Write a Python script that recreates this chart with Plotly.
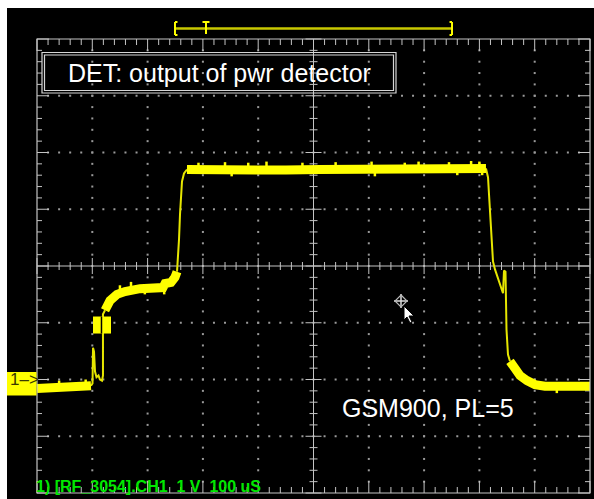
import plotly.graph_objects as go

# ---- scope settings -------------------------------------------------------
T_DIV = 100.0        # µs per division
V_DIV = 1.0          # V per division
N_XDIV, N_YDIV = 10, 8
SUB = 5              # minor ticks per division
V_BOTTOM = -2.0      # CH1 ground sits two divisions above the bottom edge
T_END = N_XDIV * T_DIV
V_TOP = V_BOTTOM + N_YDIV * V_DIV

# ---- CH1 (DET, power detector output), time in µs, level in V -------------
# noisy flat stretches (drawn as a wide band)
base_t = [0, 23.5, 59.7, 97.6]
base_v = [-0.16, -0.14, -0.14, -0.11]

ramp_t = [123.0, 132.0, 144.7, 159.1, 186.3, 213.4, 227.8, 231.5, 242.3, 249.5, 253.2]
ramp_v = [1.22, 1.39, 1.50, 1.55, 1.60, 1.62, 1.62, 1.69, 1.71, 1.80, 1.90]

burst_t = [271.2, 330.0, 385.2, 450.0, 511.8, 580.0, 656.4, 730.0, 811.9]
burst_v = [3.70, 3.69, 3.68, 3.69, 3.70, 3.71, 3.72, 3.72, 3.72]

tail_t = [855.3, 864.4, 873.4, 886.1, 900.5, 918.6, 963.8, 1000.0]
tail_v = [0.32, 0.18, 0.07, -0.02, -0.09, -0.12, -0.12, -0.12]

# noise peaks standing out of the band: (time µs, from V, to V)
peak_t = [40.0, 75.0, 88.0, 150.0, 170.0, 195.0, 230.0, 246.0,
          292.0, 340.0, 352.0, 382.0, 415.0, 480.0, 540.0, 605.0, 611.0,
          665.0, 690.0, 745.0, 760.0, 785.0, 800.0, 805.0, 940.0]
peak_lo = [-0.14, -0.14, -0.12, 1.50, 1.58, 1.60, 1.62, 1.74,
           3.70, 3.69, 3.68, 3.68, 3.69, 3.70, 3.70, 3.71, 3.71,
           3.72, 3.72, 3.72, 3.72, 3.72, 3.72, 3.72, -0.12]
peak_hi = [-0.02, -0.05, 0.00, 1.66, 1.72, 1.50, 1.50, 1.86,
           3.82, 3.83, 3.58, 3.82, 3.84, 3.82, 3.83, 3.84, 3.58,
           3.82, 3.84, 3.83, 3.60, 3.85, 3.84, 3.60, -0.24]

# fast edges (thin)
kick_t = [97.6, 100.4, 101.3, 103.1, 104.9, 107.6, 111.2, 113.9, 117.5, 119.3, 119.3, 123.0]
kick_v = [-0.11, -0.07, 0.56, 0.49, 0.14, 0.04, 0.07, 0.0, -0.02, 0.07, 1.15, 1.22]

rise_t = [253.2, 255.0, 256.8, 258.6, 260.4, 262.2, 265.8, 271.2]
rise_v = [1.90, 2.11, 2.47, 2.91, 3.26, 3.49, 3.63, 3.70]

fall_t = [811.9, 815.6, 817.4, 819.2, 821.0, 822.8, 824.6, 828.2, 835.4, 842.7,
          844.5, 847.2, 849.0, 851.7, 855.3]
fall_v = [3.72, 3.56, 3.26, 2.91, 2.56, 2.29, 2.08, 1.94, 1.74, 1.52,
          1.92, 1.90, 0.88, 0.44, 0.32]

# marker block on the trace (µs / V extents) and the acquisition window bar
mark_t = [101.3, 116.6, 133.8]
mark_v = [0.81, 1.11]
window_t = [249.5, 305.6, 750.5]   # start, trigger, stop

# ---- screen geometry -------------------------------------------------------
W, H = 594, 499
X0, X1, Y0, Y1 = 37, 590, 39, 493          # graticule in pixels
PL, PT = 7, 8                               # black screen origin
KX = (X1 - X0) / T_END
KY = (Y1 - Y0) / (N_YDIV * V_DIV)


def tx(px):
    return (px - X0) / KX


def vy(py):
    return V_TOP - (py - Y0) / KY


GRID = "#c4c4c4"
YEL = "#ffff00"
fig = go.Figure()


def segs(pairs, color, width):
    xs, ys = [], []
    for (a, b), (c, d) in pairs:
        xs += [a, c, None]
        ys += [b, d, None]
    fig.add_trace(go.Scatter(x=xs, y=ys, mode="lines", hoverinfo="skip",
                             line=dict(color=color, width=width), showlegend=False))


# dotted graticule
dx, dy = [], []
for i in range(1, N_XDIV):
    if i == N_XDIV // 2:
        continue
    for k in range(1, N_YDIV * SUB):
        dx.append(i * T_DIV)
        dy.append(V_BOTTOM + k * V_DIV / SUB)
for j in range(1, N_YDIV):
    if j == N_YDIV // 2:
        continue
    for k in range(1, N_XDIV * SUB):
        dx.append(k * T_DIV / SUB)
        dy.append(V_BOTTOM + j * V_DIV)
fig.add_trace(go.Scatter(x=dx, y=dy, mode="markers", hoverinfo="skip", showlegend=False,
                         marker=dict(symbol="square", size=2, color="#9a9a9a",
                                     line=dict(width=0))))

# edge and centre ticks
ticks = []
for k in range(0, N_XDIV * SUB + 1):
    t = k * T_DIV / SUB
    major = k % SUB == 0
    le = (12 if major else 6)
    ticks.append(((t, V_TOP), (t, V_TOP - le / KY)))
    ticks.append(((t, V_BOTTOM), (t, V_BOTTOM + le / KY)))
    lc = (8 if major else 4)
    vc = V_BOTTOM + N_YDIV / 2 * V_DIV
    ticks.append(((t, vc - lc / KY), (t, vc + lc / KY)))
for k in range(0, N_YDIV * SUB + 1):
    v = V_BOTTOM + k * V_DIV / SUB
    major = k % SUB == 0
    le = (12 if major else 5)
    ticks.append(((0, v), (le / KX, v)))
    ticks.append(((T_END, v), (T_END - le / KX, v)))
    lc = (8 if major else 4)
    tc = T_END / 2
    ticks.append(((tc - lc / KX, v), (tc + lc / KX, v)))
ticks.append(((0, V_BOTTOM + N_YDIV / 2), (T_END, V_BOTTOM + N_YDIV / 2)))
ticks.append(((T_END / 2, V_BOTTOM), (T_END / 2, V_TOP)))
segs(ticks, GRID, 1)

# frame
fig.add_shape(type="rect", x0=0, x1=T_END, y0=V_BOTTOM, y1=V_TOP,
              line=dict(color=GRID, width=1.2))

# acquisition window bar
bar_v = vy(28.5)
top_v, bot_v = vy(22), vy(35)
segs([((window_t[0], bar_v), (window_t[2], bar_v))], "#c8c800", 2.5)
segs([((window_t[0], top_v), (window_t[0], bot_v)),
      ((window_t[0], top_v), (window_t[0] + 2.5 / KX, top_v)),
      ((window_t[0], bot_v), (window_t[0] + 2.5 / KX, bot_v)),
      ((window_t[2], top_v), (window_t[2], bot_v)),
      ((window_t[2], top_v), (window_t[2] - 2.5 / KX, top_v)),
      ((window_t[2], bot_v), (window_t[2] - 2.5 / KX, bot_v)),
      ((window_t[1] - 3.5 / KX, top_v), (window_t[1] + 3.5 / KX, top_v)),
      ((window_t[1], top_v), (window_t[1], vy(34)))], YEL, 2)

# CH1 trace
for tt, vv in [(kick_t, kick_v), (rise_t, rise_v), (fall_t, fall_v)]:
    fig.add_trace(go.Scatter(x=tt, y=vv, mode="lines", hoverinfo="skip", showlegend=False,
                             line=dict(color="#e6e600", width=2)))
for tt, vv in [(base_t, base_v), (ramp_t, ramp_v), (burst_t, burst_v), (tail_t, tail_v)]:
    fig.add_trace(go.Scatter(x=tt, y=vv, mode="lines", hoverinfo="skip", showlegend=False,
                             line=dict(color=YEL, width=9)))
segs([((t, a), (t, b)) for t, a, b in zip(peak_t, peak_lo, peak_hi)], YEL, 2.5)

# marker block on the trace
fig.add_shape(type="rect", x0=mark_t[0], x1=mark_t[2], y0=mark_v[0], y1=mark_v[1],
              fillcolor=YEL, line=dict(width=0))
fig.add_shape(type="line", x0=mark_t[1], x1=mark_t[1], y0=mark_v[0], y1=mark_v[1],
              line=dict(color="#000000", width=1.5))

# ground reference flag
fig.add_shape(type="rect", x0=tx(7), x1=tx(36.5), y0=vy(395.5), y1=vy(372),
              fillcolor=YEL, line=dict(width=0))
fig.add_annotation(x=tx(8), y=0.0, text="1\u2013>", showarrow=False, xanchor="left",
                   yanchor="middle", font=dict(family="Liberation Sans", size=17,
                                               color="#3a3a00"))

# caption box
for (a, b, c, d) in [(42, 396, 52.5, 93), (44.5, 393.5, 55, 90.5)]:
    fig.add_shape(type="rect", x0=tx(a), x1=tx(b), y0=vy(d), y1=vy(c),
                  line=dict(color="#d6d6d6", width=1.2))
fig.add_annotation(x=tx(66), y=vy(73), text="DET: output of pwr detector", showarrow=False,
                   xanchor="left", yanchor="middle",
                   font=dict(family="Liberation Sans", size=25, color="#ffffff"))
fig.add_annotation(x=tx(340), y=vy(408), text="GSM900, PL=5", showarrow=False,
                   xanchor="left", yanchor="middle",
                   font=dict(family="Liberation Sans", size=25, color="#ffffff"))
fig.add_annotation(x=tx(34), y=vy(486.5), text="1) [RF_3054].CH1  1 V  100 uS",
                   showarrow=False, xanchor="left", yanchor="middle",
                   font=dict(family="Liberation Sans", size=16, color="#00e800",
                             weight="bold"))

# mouse pointer
ptr = [(0, 0), (0, 14), (3, 11), (6, 17), (8, 16), (5, 10), (10, 10)]
ox, oy = 404, 306
path = "M " + " L ".join(f"{tx(ox + a)},{vy(oy + b)}" for a, b in ptr) + " Z"
fig.add_shape(type="path", path=path, fillcolor="#ffffff", line=dict(color="#000000", width=1))
cx, cy = 401, 301
for seg in ([(-7, 0), (7, 0)], [(0, -7), (0, 7)]):
    fig.add_shape(type="line", x0=tx(cx + seg[0][0]), x1=tx(cx + seg[1][0]),
                  y0=vy(cy + seg[0][1]), y1=vy(cy + seg[1][1]),
                  line=dict(color="#dddddd", width=1.5))
fig.add_shape(type="path",
              path="M {} {} L {} {} L {} {} L {} {} Z".format(
                  tx(cx), vy(cy - 6), tx(cx + 6), vy(cy), tx(cx), vy(cy + 6), tx(cx - 6), vy(cy)),
              line=dict(color="#bbbbbb", width=1.2))

fig.update_layout(
    width=W, height=H,
    margin=dict(l=PL, r=0, t=PT, b=0),
    paper_bgcolor="#ffffff", plot_bgcolor="#000000",
    xaxis=dict(range=[tx(PL), tx(W)], visible=False, fixedrange=True),
    yaxis=dict(range=[vy(H), vy(PT)], visible=False, fixedrange=True),
    showlegend=False,
)
fig.write_html("out.html")
